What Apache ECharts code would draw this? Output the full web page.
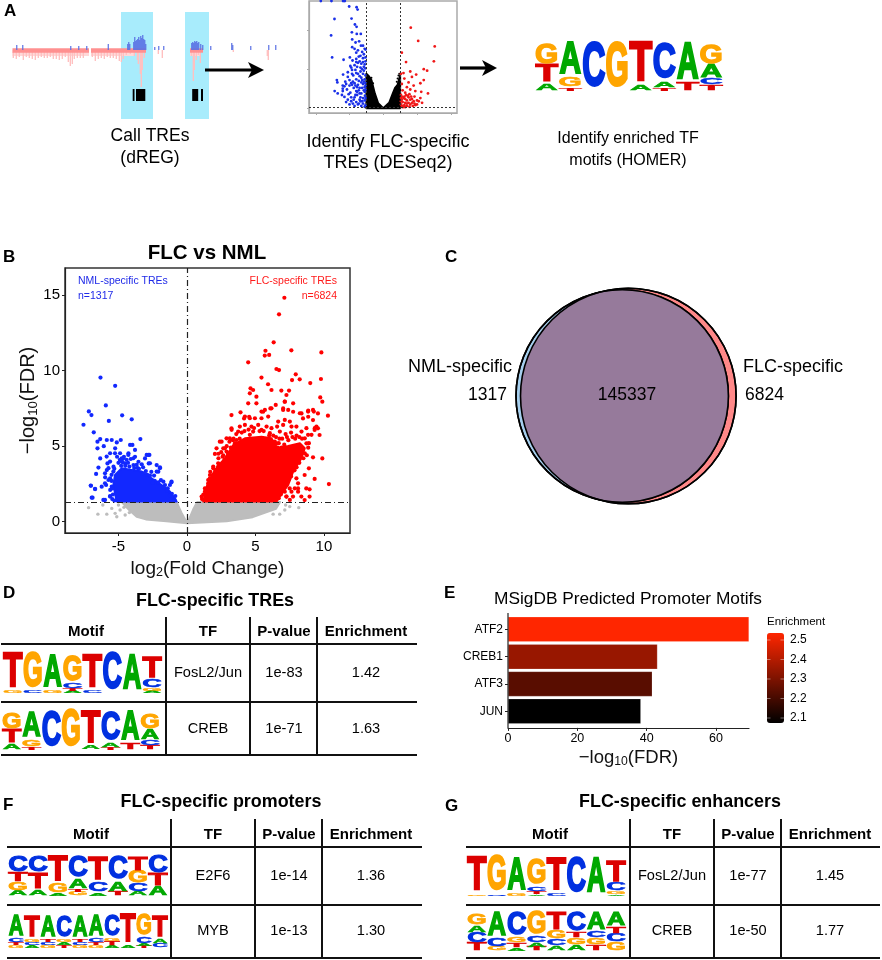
<!DOCTYPE html>
<html><head><meta charset="utf-8">
<style>html,body{margin:0;padding:0;background:#fff}#c{width:882px;height:960px}</style>
<script src="https://cdn.jsdelivr.net/npm/echarts@6/dist/echarts.min.js"></script></head>
<body><div id="c"></div>
<script>
const FONT='"Liberation Sans",Arial,sans-serif';
// ---------- panel A: genome track (position, signal)
const trackBase=[[12.5,89],[91,146],[190,203]];
const trackFringe=[[12.5,89],[91,135],[190,200]];
const trackPink=[[14,-8],[17,-9],[20,-7],[24,-10],[27,-7],[30,-8],[33,-9],[36,-10],[39,-8],[42,-7],[45,-8],[48,-8],[51,-7],[54,-9],[57,-9],[60,-10],[63,-9],[66,-7],[69,-12],[71,-16],[73,-14],[75,-9],[78,-8],[81,-8],[84,-8],[93,-7],[96,-11],[99,-9],[102,-8],[105,-9],[108,-7],[111,-8],[114,-8],[117,-9],[120,-11],[122,-12],[124,-9],[127,-5],[131,-4],[135,-6],[138,-10],[139,-14],[141,-24],[142,-37],[143,-20],[145,-8],[159,-4],[163,-8],[192,-6],[194,-31],[195,-20],[197,-10],[199,-5],[201,-13],[234,-2],[268,-6],[269,-10]];
const trackBlue=[[16,3],[22,3],[70,2],[78,2],[86,2],[107.5,4],[127,4],[128,6],[129,4],[133,6],[134,11],[135,7],[136,8],[137,9],[138,11],[139,8],[140,12],[141,10],[142,13],[143,9],[144,8],[145,4],[154,1],[158,2],[163,2],[191,5],[192,6],[193,5],[194,7],[195,6],[196,7],[197,5],[198,6],[200,4],[202,3],[210,2],[231,5],[232,3],[250,2],[268,3],[275,3]];
const trackHighlights=[[121,153],[185,209]];
const trackBlocks=[[132.7,134.5],[136,145.3],[192.2,198.2],[201,203]];
// ---------- panel A: small volcano
const miniBlack=[[-1,0],[-1,4.4],[-.85,4.1],[-.7,3.6],[-.5,1.9],[-.3,.64],[0,0],[.35,.7],[.55,1.8],[.7,2.6],[.85,3],[1,4.2],[1,0]];
const miniBlackExtra=[[-.9,4],[-.8,3.9],[-.7,3.9],[-.6,3.2],[.8,3.4],[.85,3.8],[.9,2.8],[.9,4.2],[.95,4.4]];
const miniBlue=[[-3.7,13.7],[-3.07,13.7],[-2.38,13.7],[-2.28,13.7],[-2.02,13],[-1.58,12.9],[-1.52,12.6],[-1.88,11.45],[-2.89,11.4],[-1.68,10.7],[-1.58,10.4],[-1.86,9.7],[-3.09,9.3],[-1.57,9.5],[-1.33,9.5],[-1.84,8.8],[-1.43,8.55],[-1.64,8.4],[-1.32,8],[-1.2,8],[-1.84,7.8],[-1.7,7.6],[-1.5,7.4],[-1.6,7.1],[-1.1,7.6],[-1.05,7.5],[-3.03,6.5],[-2.35,6.2],[-1.98,6.5],[-1.82,6.1],[-1.6,6.3],[-1.4,6],[-1.45,6.6],[-1.2,6.4],[-1.3,5.7],[-1.7,5.5],[-1.9,5.2],[-1.55,5.3],[-1.1,5.6],[-1.25,5],[-1.05,5.1],[-2.38,4.3],[-2.1,4.6],[-1.85,4.9],[-2.1,4],[-1.78,4.2],[-1.5,4.4],[-1.2,4.4],[-2.75,3.6],[-2.72,3.3],[-2,3.6],[-1.6,3.7],[-1.3,3.9],[-1.1,3.7],[-1.85,3],[-2.3,2.8],[-2.88,2.2],[-2.4,2.5],[-2.4,2.2],[-2.3,1.45],[-2.1,1.1],[-1.9,.9],[-1.7,1.4],[-1.6,2.2],[-1.5,3],[-1.4,2.6],[-1.3,1.9],[-1.2,3.1],[-1.15,2.3],[-1.08,1.6],[-1.4,1.1],[-1.6,.8],[-1.75,2.6],[-1.2,.6],[-1.1,1],[-1.05,2.9],[-1.3,.3],[-1.5,.5],[-1.8,.6],[-1.05,4.2],[-1.15,4.8],[-1.65,4.9],[-1.35,4.7],[-1.45,3.5],[-1.25,2.6],[-1.55,1.7],[-1.35,1.4],[-1.05,.4],[-1.9,3.2],[-1.95,2],[-2.05,1.8],[-2.2,3.1],[-2.15,2.4],[-2,2.9],[-1.9,1.4],[-1.8,3.4],[-1.7,3.2],[-1.65,2.9],[-1.55,2.7],[-1.45,2.3],[-1.4,1.9],[-1.3,3.3],[-1.25,3.6],[-1.15,3.4],[-1.1,2.7],[-1.1,2.1],[-1.05,1.3],[-1.2,1.3],[-1.35,.9],[-1.45,.6],[-1.65,1.7],[-1.75,1.1],[-2.2,.8],[-2,.5],[-1.7,.3],[-1.4,4.1],[-1.6,4.5],[-1.85,4.4],[-1.95,5.4],[-1.35,6.7],[-1.15,6.9],[-1.25,7.2],[-1.05,6.5],[-1.05,6],[-2.4,2.9],[-2.45,1.7],[-2.7,1.9],[-2.25,3.4],[-1.15,5.3],[-1.2,5.9],[-1.35,5.2],[-1.5,5.8],[-1.6,5.9],[-1.05,3.2],[-1.05,2.4],[-1.25,.9],[-1.1,.2],[-1.55,2.1]];
const miniRed=[[1.63,10.3],[2.07,8.6],[3.05,7.9],[1.1,7.1],[3,6],[1.35,5.9],[2.6,4.8],[2.4,5],[1.6,4.7],[1.05,4.4],[1.2,4.5],[1.7,4],[1.5,3.3],[1.25,3.8],[1.95,4.3],[2.4,3.6],[2.2,3.2],[1.8,2.9],[1.4,2.7],[1.1,3.1],[2.25,2.1],[2.65,1.9],[1.9,2.2],[1.6,2.4],[1.3,2],[1.15,2.3],[2.3,.7],[1.85,1.5],[1.55,1.8],[1.25,1.5],[1.1,1.1],[1.4,1],[1.6,.5],[1.8,.9],[1.05,.5],[1.2,.2],[1.4,.3],[1.7,1.2],[2,1],[1.05,1.7],[1.3,.7],[1.5,1.4],[1.15,.8],[1.35,1.7],[1.6,1.1],[1.9,.4],[1.05,.9],[1.1,.3],[1.2,1.3],[1.3,1.2],[1.25,.4],[1.4,.6],[1.5,.7],[1.55,.2],[1.7,.7],[1.85,.6],[1.05,1.3],[1.1,1.5],[1.45,1.6],[1.65,1.5],[1.75,.3],[2,.5],[2.1,.9],[2.2,1.3],[1.15,.15],[1.3,.15]];
// ---------- panel B: volcano
const greyCloud=[[-4.76,1.3],[-.75,1.3],[-.4,.6],[-.1,.1],[0,.03],[.15,.15],[.45,.8],[.75,1.3],[6.8,1.3],[6.5,.85],[4.8,.3],[2.9,.03],[0,-.1],[-1.5,.03],[-3,.15],[-3.67,.33],[-4.2,.75]];
const greyPts=[[-7.18,.93],[-6.14,1.1],[-6.5,.5],[-5.85,.5],[-5.24,.55],[-5.12,.33],[-4.51,.44],[-4.88,.77],[-5.49,.88],[-5,1.1],[-4.39,1],[-4.03,.88],[6.77,.5],[8.16,.93],[7.5,1],[7.14,.77],[6.29,.5],[7.2,1.1],[-4.6,.95],[-4.2,.6]];
const blueCloud=[[-5.13,1.33],[-5.37,2.43],[-5.25,3.1],[-4.76,3.54],[-4.03,3.43],[-3.3,3.32],[-2.58,2.87],[-1.85,2.43],[-1.24,1.99],[-.75,1.33]];
const bluePts=[[-6.31,9.54],[-5.24,9],[-5.92,7.7],[-7.16,7.3],[-6.97,7.06],[-4.73,7.04],[-5.7,6.67],[-4.03,6.78],[-7.55,6.42],[-6.8,5.92],[-6.33,5.47],[-6.53,5.3],[-5.85,5.41],[-5.49,5.41],[-4.83,5.41],[-3.4,5.47],[-6.53,4.86],[-5.12,5.25],[-6.07,5],[-5.24,4.86],[-4.15,5.08],[-3.98,5.08],[-4.88,4.53],[-5.61,4.53],[-6.33,4.19],[-6.46,3.58],[-6.63,3.16],[-5.97,2.94],[-5.8,3.86],[-7.01,2.38],[-5.9,2.43],[-6.7,2.16],[-6.89,1.59],[-6.04,1.43],[-5.61,1.66],[-5.49,2.32],[-5.73,2.76],[-5.85,3.42],[-5.36,3.64],[-4.76,4.19],[-4.27,4.53],[-3.79,4.75],[-2.94,4.42],[-2.74,4.42],[-3.06,4.19],[-2.79,3.86],[-2.21,3.75],[-1.97,3.6],[-2.09,3.31],[-1.14,2.6],[-1.72,2.65],[-3.79,4.3],[-3.54,3.97],[-4.51,3.86],[-4.9,4.1],[-4.6,4.3],[-4.1,4.15],[-3.2,3.6],[-2.6,3.3],[-2.4,3.05],[-1.9,2.75],[-1.4,2.2],[-5.5,3.1],[-5.6,2.1],[-5.45,1.5],[-4.3,3.9],[-3.6,3.55],[-3,3.35],[-1.25,1.75],[-1,1.6],[-4.7,3.95],[-3.9,3.75],[-5.86,4.31],[-5.25,4.53],[-5.61,3.98],[-5.73,3.54],[-5.37,3.32],[-4.64,4.2],[-4.28,4.42],[-3.91,4.2],[-4.76,3.98],[-3.67,3.76],[-2.82,4.42],[-2.7,3.87],[-2.21,3.32],[-1.97,3.54],[-1.6,2.43],[-1.24,2.43],[-1.12,2.65],[-5.61,2.87],[-5.98,2.54],[-6.22,2.32],[-5.98,3.2],[-7.02,2.39],[-6.71,2.17],[-5.98,1.44],[-5.61,1.7],[-6.95,1.59],[-6.1,1.44],[-5.5,2.7],[-5.45,2.2],[-5.4,1.8],[-5.3,1.4],[-5.3,3.5],[-5,3.9],[-4.8,3.7],[-4.5,3.7],[-4.2,3.65],[-3.85,3.55],[-3.5,3.5],[-3.2,3.2],[-2.9,3.1],[-2.7,3.05],[-2.35,2.7],[-2.1,2.6],[-1.7,2.3],[-1.45,2.05],[-1.1,1.85],[-.9,1.45],[-.85,1.7],[-5.1,4.3],[-4.4,4.1],[-3.3,3.8],[-2.5,2.6]];
const redCloud=[[1.19,1.33],[1.48,2.43],[2.04,3.43],[2.77,4.2],[3.38,5.08],[4.23,5.52],[5.44,5.63],[6.17,5.52],[6.58,4.9],[7.39,5.02],[8.24,5.2],[8.6,4.86],[8.36,4.2],[7.75,3.32],[7.39,2.43],[6.78,1.67],[6.54,1.33]];
const redPts=[[7.11,14.83],[6.72,13.73],[6.33,11.88],[5.73,11.32],[5.68,11],[6,11.04],[7.62,11.35],[9.81,11.21],[4.47,10.55],[6.53,10.11],[6.72,10.04],[7.94,9.76],[5.44,9.54],[7.67,9.38],[8.23,9.43],[9.78,9.45],[9,9.18],[5.92,9.1],[4.64,8.83],[4.83,8.72],[6.17,8.72],[6.89,8.68],[7.45,8.68],[4.59,8.5],[5.07,8.28],[7.26,8.39],[9.73,8.23],[9.88,7.95],[4.47,7.84],[5.07,7.84],[7.14,7.95],[6.48,7.73],[6.09,7.5],[5.56,7.28],[3.91,7.24],[3.25,7.06],[4.17,6.84],[4.54,6.95],[7.02,7.5],[7.75,7.28],[8.36,7.17],[8.85,7.35],[9.2,7.4],[9.56,7.17],[10.29,7.02],[8.47,6.84],[8.85,6.95],[9.2,6.73],[9.56,6.18],[9.32,6.07],[9.68,5.74],[3.25,6.18],[2.89,5.52],[2.4,5.3],[2.16,4.86],[9.2,4.26],[9.88,4.19],[8.9,3.53],[8.59,3.09],[9.32,2.83],[10.36,2.49],[8.71,2.2],[8.11,2.2],[8.95,2.14],[8.35,1.66],[8.95,1.66],[8.59,1.43],[7.74,1.66],[7.5,2.2],[7.26,1.66],[7.99,2.87],[1.67,2.87],[1.55,2.54],[1.31,2.2],[1.07,1.66],[1.92,3.53],[2.28,3.64],[2.6,4.3],[2.77,4.86],[2.04,4.49],[2.65,4.86],[2.53,5.3],[3.13,5.52],[3.26,6.08],[3.86,6.3],[3.74,5.97],[4.23,6.41],[4.71,6.3],[4.83,5.97],[5.2,6.41],[5.44,6.08],[5.81,6.3],[6.17,6.19],[6.58,6.3],[6.78,5.97],[7.02,6.41],[7.51,6.63],[7.63,6.3],[7.99,6.3],[8.36,5.97],[8.72,6.19],[8.84,5.75],[8.6,5.52],[9.33,6.19],[9.45,6.3],[9.09,5.75],[8.72,5.19],[8.6,4.53],[7.99,4.31],[7.51,3.87],[7.02,3.2],[8.11,2.54],[7.87,2.21],[8.11,1.99],[7.63,1.99],[7.26,1.66],[7.51,1.44],[7.14,1.99],[6.78,4.75],[6.54,5.19],[6.41,5.3],[6.05,5.86],[5.69,5.41],[4.59,5.75],[3.62,5.41],[2.89,4.64],[2.28,3.87],[1.92,3.65],[1.68,3.09],[1.55,2.76],[1.31,1.99],[1.38,1.66],[4.23,6.96],[4.59,6.85],[4.96,6.85],[5.44,6.85],[5.93,6.96],[6.66,6.63],[7.14,6.74],[5.44,7.29],[5.69,7.4],[6.17,7.51],[7.02,7.4],[7.39,7.4],[7.75,7.84],[7.14,7.95],[8.24,7.18],[8.84,7.29],[9.26,7.29],[6.9,4.9],[7.1,5.1],[6.95,5.5],[7.3,5.6],[7.7,5.6],[8,5.7],[2.3,4.2],[2.5,4.6],[2.9,5],[3.1,5.3],[3.4,5.5],[3.6,5.8],[4,5.9],[4.2,6],[4.5,6.1],[4.9,6.2],[5.3,6],[5.6,6],[6,5.7],[6.3,5.7],[6.5,5.6],[6.7,5.2],[6.6,4.9],[6.75,5.5],[7.2,5.8],[7.4,5.4],[7.6,5.9],[7.9,5.5],[8.2,5.6],[8.4,5.5],[8.9,5.2],[8.85,4.9],[8.75,4.4],[8.5,4.2],[8.35,4.5],[8.2,3.9],[8,3.6],[7.85,3.4],[7.7,3.6],[7.6,3],[7.45,2.8],[7.3,3.1],[7.2,2.6],[7.05,2.4],[6.95,2.1],[6.85,1.8],[6.7,1.55],[6.75,2.1],[6.95,2.8],[1.1,1.5],[1.2,1.8],[1.45,2.2],[1.75,2.6],[1.9,3.1],[2.1,3.4],[2.4,3.7],[2.6,3.9],[2.75,4.1],[3,4.5],[3.2,4.9],[3.5,5.2],[1.7,3.3],[2.3,4.5],[2.65,4.4],[3.35,5.4],[3.85,5.5]];
// ---------- panel C: Venn (centre x, centre y, radius, fill)
const vennCircles=[[118.3,116,107.8,'#ff8888'],[112.2,116,106.2,'#a6cfee']];
const vennOverlapColor='#967a9b';
const vennCounts={nml:'1317',both:'145337',flc:'6824'};
// ---------- panel E: bars
const motifNames=['ATF2','CREB1','ATF3','JUN'];
const motifFDR=[69.5,43.1,41.6,38.3];
const motifEnrichment=[2.536,2.35,2.236,2.074];
const enrichTicks=[2.5,2.4,2.3,2.2,2.1];
// ---------- motif logos, stacks bottom to top: [letter, share of logo height]
const logoFos=[[['G',.05],['T',.9]],[['C',.05],['G',.92]],[['G',.07],['A',.85]],[['A',.05],['T',.06],['C',.12],['G',.67]],[['C',.06],['T',.86]],[['C',.94]],[['A',.93]],[['A',.05],['G',.07],['C',.2],['T',.56]]];
const logoCreb=[[['A',.15],['T',.37],['G',.45]],[['T',.07],['G',.2],['A',.7]],[['C',.97]],[['G',.98]],[['A',.1],['T',.87]],[['T',.06],['A',.12],['C',.76]],[['T',.17],['A',.8]],[['T',.12],['C',.13],['A',.28],['G',.42]]];
const logoE2f6=[[['A',.13],['G',.2],['T',.25],['C',.41]],[['A',.15],['T',.42],['C',.42]],[['A',.06],['G',.25],['T',.68]],[['G',.1],['T',.06],['A',.26],['C',.56]],[['A',.08],['C',.26],['T',.6]],[['T',.1],['A',.26],['C',.58]],[['A',.1],['C',.2],['G',.3],['T',.36]],[['A',.24],['T',.3],['C',.44]]];
const logoMyb=[[['G',.07],['T',.1],['C',.12],['A',.68]],[['A',.08],['C',.1],['G',.1],['T',.68]],[['G',.08],['C',.1],['T',.1],['A',.7]],[['T',.08],['A',.1],['G',.1],['C',.7]],[['G',.08],['C',.1],['T',.1],['A',.7]],[['G',.08],['T',.1],['C',.12],['A',.68]],[['A',.08],['T',.12],['G',.1],['C',.68]],[['A',.1],['T',.88]],[['T',.06],['A',.06],['C',.2],['G',.66]],[['C',.14],['A',.14],['T',.7]]];
const logoEnh=[[['T',.2],['C',.27],['A',.18],['G',.3]],[['G',.1],['C',.22],['A',.65]],[['A',.08],['T',.12],['G',.15],['C',.62]],[['T',.1],['A',.1],['C',.18],['G',.6]],[['A',.12],['C',.18],['G',.2],['T',.48]],[['A',.15],['G',.18],['T',.15],['C',.5]],[['T',.15],['G',.18],['C',.17],['A',.48]],[['G',.22],['C',.22],['T',.17],['A',.36]]];
// ---------- tables
const tableHeader=['Motif','TF','P-value','Enrichment'];
const tableD=[['FosL2/Jun','1e-83','1.42'],['CREB','1e-71','1.63']];
const tableF=[['E2F6','1e-14','1.36'],['MYB','1e-13','1.30']];
const tableG=[['FosL2/Jun','1e-77','1.45'],['CREB','1e-50','1.77']];

const LOGO_COL={A:'#00a800',C:'#0030e0',G:'#ffa500',T:'#dc0000'};
const ADV={A:.72,C:.67,G:.72,T:.57};
const graphic=[];
const text=(t,x,y,size,o={})=>graphic.push({type:'text',x,y,z:20,rotation:o.rot||0,style:{text:t,font:`${o.bold?'bold ':''}${size}px ${FONT}`,fill:o.color||'#000',align:o.align||'center',verticalAlign:'middle'}});
const line=(x1,y1,x2,y2,w=2,c='#111')=>graphic.push({type:'line',z:15,shape:{x1,y1,x2,y2},style:{stroke:c,lineWidth:w}});
function logo(cols,x0,x1,y0,y1){
  const cw=(x1-x0)/cols.length,H=y1-y0;
  cols.forEach((stack,i)=>{let b=y1;stack.forEach(([l,h])=>{const px=h*H,cy=b-px/2;
    graphic.push({type:'text',x:x0+cw*(i+.5),y:cy,z:12,scaleX:cw*.98/((ADV[l]+.05)*100),scaleY:px/76,
      style:{text:l,font:`bold 100px ${FONT}`,fill:LOGO_COL[l],stroke:LOGO_COL[l],lineWidth:5,align:'center',verticalAlign:'middle'}});b-=px;});});
}
function table(t){
  text(t.title,t.titleX,t.titleY,17.9,{bold:true});
  t.vx.forEach(x=>line(x,t.vy0,x,t.hy[2]));
  t.hy.forEach(y=>line(t.x0,y,t.x1,y));
  tableHeader.forEach((h,i)=>text(h,t.cx[i],t.headY,15,{bold:true}));
  t.rows.forEach((r,j)=>r.forEach((c,i)=>text(c,t.cx[i+1],t.rowY[j],14.6)));
  t.logos.forEach(l=>logo(...l));
}
// panel letters
[['A',4,11],['B',3,257],['C',445,257],['D',3,593],['E',444,593],['F',3,805],['G',445,806]].forEach(p=>text(p[0],p[1],p[2],17,{bold:true,align:'left'}));
// panel A texts and arrows
text('Call TREs',150,136,17.5);text('(dREG)',150,158,17.5);
text('Identify FLC-specific',388,142,18);text('TREs (DESeq2)',388,163,18);
text('Identify enriched TF',628,139,16);text('motifs (HOMER)',628,161,16);
line(205,70,252,70,3.2,'#000');
graphic.push({type:'polygon',z:16,shape:{points:[[248,62],[264,70],[248,78],[252,70]]},style:{fill:'#000'}});
line(460,68,486,68,3.2,'#000');
graphic.push({type:'polygon',z:16,shape:{points:[[482,60],[497,68],[482,76],[486,68]]},style:{fill:'#000'}});
logo(logoCreb,535,723,43,91);
// panel B texts
text('FLC vs NML',207,253,20.5,{bold:true});
text('NML-specific TREs',78,281,10.5,{align:'left',color:'#1f2ae8'});
text('n=1317',78,296,10.5,{align:'left',color:'#1f2ae8'});
text('FLC-specific TREs',337,281,10.5,{align:'right',color:'#ff1a1a'});
text('n=6824',337,296,10.5,{align:'right',color:'#ff1a1a'});
// panel C texts
text('NML-specific',512,367,18,{align:'right'});
text(vennCounts.nml,507,395,17.5,{align:'right'});
text(vennCounts.both,627,395,17.5);
text('FLC-specific',743,367,18,{align:'left'});
text(vennCounts.flc,745,395,17.5,{align:'left'});
// panel E extras
text('MSigDB Predicted Promoter Motifs',628,599,17.3);
text('Enrichment',767,622,11.5,{align:'left'});
const cbY=v=>640+(2.5-v)*195;
enrichTicks.forEach(v=>{text(v.toFixed(1),790,cbY(v),12,{align:'left'});
  line(767,cbY(v),770.5,cbY(v),.7,'rgba(255,255,255,.6)');line(780.5,cbY(v),784,cbY(v),.7,'rgba(255,255,255,.6)');});
line(508,613,508,728,1.2,'#222');
// tables
table({title:'FLC-specific TREs',titleX:215,titleY:601,vx:[166,250,317],vy0:617,hy:[644,702,755],x0:1,x1:417,cx:[86,208,284,366],headY:632,rowY:[673,729],rows:tableD,
  logos:[[logoFos,3,162,653,693],[logoCreb,2,160,712,750]]});
table({title:'FLC-specific promoters',titleX:221,titleY:802,vx:[171,255,322],vy0:819,hy:[847,905,958],x0:7,x1:422,cx:[91,213,289,371],headY:835,rowY:[876,931],rows:tableF,
  logos:[[logoE2f6,8,168,856,896],[logoMyb,8,168,915,948]]});
table({title:'FLC-specific enhancers',titleX:680,titleY:802,vx:[630,714,781],vy0:819,hy:[847,905,958],x0:466,x1:880,cx:[550,672,748,830],headY:835,rowY:[876,931],rows:tableG,
  logos:[[logoFos,467,626,857,896],[logoEnh,467,626,912,951]]});

const cloud=(pts,color,xi,yi,z)=>({type:'custom',xAxisIndex:xi,yAxisIndex:yi,z,silent:true,clip:true,data:pts,
  renderItem:(p,api)=>p.dataIndex?null:{type:'polygon',shape:{points:pts.map(q=>api.coord(q))},style:{fill:color,stroke:color,lineWidth:2,lineJoin:'round'}}});
const dots=(pts,color,size,xi,yi,z)=>({type:'scatter',xAxisIndex:xi,yAxisIndex:yi,z,silent:true,symbolSize:size,itemStyle:{color,opacity:1},data:pts,animation:false});
const rects=(rows,vals,color,z)=>({type:'custom',xAxisIndex:0,yAxisIndex:0,z,silent:true,data:rows,
  renderItem:(p,api)=>{const a=api.coord([api.value(0),vals[1]]),b=api.coord([api.value(1),vals[0]]);return{type:'rect',shape:{x:a[0],y:a[1],width:b[0]-a[0],height:b[1]-a[1]},style:{fill:color}};}});
const vline=(xs,ys,style)=>({silent:true,symbol:'none',label:{show:false},lineStyle:style,data:[...xs.map(v=>({xAxis:v})),...ys.map(v=>({yAxis:v}))]});
const ax=(o)=>Object.assign({type:'value',scale:false,splitLine:{show:false}},o);
const hidden=(gridIndex,min,max)=>ax({gridIndex,min,max,show:false});
const tickAxis=(gridIndex,min,max,vals,labels,extra={})=>ax({gridIndex,min,max,
  axisLine:{show:true,onZero:false,lineStyle:{color:extra.lineColor||'#222',width:extra.lineW||1.2}},
  axisTick:{show:true,customValues:vals,length:extra.tick||3,lineStyle:{color:extra.lineColor||'#222'}},
  axisLabel:labels?{show:true,customValues:vals,fontFamily:FONT,fontSize:extra.fs||15,color:'#000',margin:extra.margin||5,formatter:v=>String(v),hideOverlap:false}:{show:false}});
const subName=(size,sub,pre,post)=>({name:`{a|${pre}}{s|${sub}}{a|${post}}`,nameLocation:'middle',nameTextStyle:{rich:{a:{fontSize:size,fontFamily:FONT,color:'#111'},s:{fontSize:size*.66,fontFamily:FONT,padding:[8,0,0,0],color:'#111'}}}});

const option={animation:false,textStyle:{fontFamily:FONT},graphic:{elements:graphic},
 grid:[{left:0,top:0,width:280,height:130},
   {left:309,top:1,width:148,height:112,show:true,borderColor:'#aaa',borderWidth:1.5},
   {left:510,top:280,width:232,height:232},
   {left:65,top:268,width:285,height:265,show:true,borderColor:'#333',borderWidth:1.5},
   {left:508,top:615.7,width:241,height:109.2}],
 xAxis:[hidden(0,0,280),
   tickAxis(1,-4.4,4.37,[-4,-2,0,2,4],null,{lineColor:'#aaa',tick:2}),
   hidden(2,0,232),
   Object.assign(tickAxis(3,-8.9,11.9,[-5,0,5,10],true,{margin:6}),subName(19,2,'log','(Fold Change)'),{nameGap:25}),
   Object.assign(tickAxis(4,0,69.5,[0,20,40,60],true,{fs:12.5,margin:4,tick:3}),subName(18.5,10,'−log','(FDR)'),{offset:3,nameGap:20})],
 yAxis:[hidden(0,-80,50),
   tickAxis(1,-.6,13.7,[0,5,10],null,{lineColor:'#aaa',tick:2}),
   hidden(2,0,232),
   Object.assign(tickAxis(3,-.75,16.8,[0,5,10,15],true,{margin:5}),subName(20,10,'−log','(FDR)'),{nameRotate:90,nameGap:25,nameLocation:'middle'}),
   {type:'category',gridIndex:4,inverse:true,data:motifNames,axisLine:{show:false},axisTick:{show:true,alignWithLabel:true,length:3,lineStyle:{color:'#222'}},axisLabel:{fontFamily:FONT,fontSize:12,color:'#000',margin:5}}],
 series:[]};

const s=option.series;
// track
s.push(rects(trackHighlights,[-69,38],'#a8ecfc',1));
s.push(rects(trackFringe,[-6,-2],'#ffd8d8',2));
s.push(rects(trackBase,[-2.7,1.7],'#ff9090',3));
s.push({type:'bar',xAxisIndex:0,yAxisIndex:0,z:2,barWidth:1.4,silent:true,itemStyle:{color:'#ffc0c0'},data:trackPink});
s.push({type:'bar',xAxisIndex:0,yAxisIndex:0,z:3,barWidth:1.2,silent:true,itemStyle:{color:'#5a70e4'},data:trackBlue.map(d=>[d[0],d[1]+2])});
s.push(rects(trackBlocks,[-51,-39],'#000',4));
// mini volcano
s.push(cloud(miniBlack,'#000',1,1,2));
s.push(dots(miniBlackExtra,'#000',2,1,1,2));
s.push(dots(miniBlue,'#1a30e8',2.8,1,1,3));
s.push(dots(miniRed,'#f01818',2.8,1,1,3));
s.push({type:'line',xAxisIndex:1,yAxisIndex:1,data:[],markLine:vline([-1,1],[.15],{color:'#333',type:[2,2],width:1})});
// venn
s.push({type:'custom',xAxisIndex:2,yAxisIndex:2,silent:true,z:2,data:vennCircles.map(c=>c.slice(0,3)),
  renderItem:(p,api)=>{
    if(p.dataIndex)return null;
    const C=vennCircles.map(c=>{const o=api.coord([c[0],c[1]]);return{x:o[0],y:o[1],r:api.size([c[2],0])[0],f:c[3]};});
    const circ=(c,fill,stroke)=>({type:'circle',shape:{cx:c.x,cy:c.y,r:c.r},style:{fill,stroke,lineWidth:1.6}});
    const arc=[];
    C.forEach((c,i)=>{const o=C[1-i];for(let k=0;k<720;k++){const a=k/720*2*Math.PI,x=c.x+c.r*Math.cos(a),y=c.y+c.r*Math.sin(a);
      if(Math.hypot(x-o.x,y-o.y)<=o.r)arc.push([x,y]);}});
    const mx=(C[0].x+C[1].x)/2,my=C[0].y;
    arc.sort((a,b)=>Math.atan2(a[1]-my,a[0]-mx)-Math.atan2(b[1]-my,b[0]-mx));
    return{type:'group',children:[circ(C[0],C[0].f,'#000'),circ(C[1],C[1].f,'#000'),
      {type:'polygon',shape:{points:arc},style:{fill:vennOverlapColor}},
      circ(C[0],'none','#000'),circ(C[1],'none','#000')]};
  }});
// volcano
s.push(cloud(greyCloud,'#bdbdbd',3,3,2));
s.push(dots(greyPts,'#bdbdbd',3.4,3,3,2));
s.push(cloud(blueCloud,'#1228ff',3,3,3));
s.push(dots(bluePts,'#1228ff',4.2,3,3,3));
s.push(cloud(redCloud,'#ff0000',3,3,3));
s.push(dots(redPts,'#ff0000',4.2,3,3,3));
s.push({type:'line',xAxisIndex:3,yAxisIndex:3,z:6,data:[],markLine:vline([0],[1.3],{color:'#222',type:[6,3,1,3],width:1.2})});
// bars
const barIdx=s.length;
s.push({type:'bar',xAxisIndex:4,yAxisIndex:4,barWidth:25,silent:true,encode:{x:0,y:1},
  itemStyle:{borderColor:'rgba(255,255,255,.35)',borderWidth:.5},
  data:motifNames.map((n,i)=>[motifFDR[i],n,motifEnrichment[i]])});
option.visualMap=[{type:'continuous',seriesIndex:barIdx,dimension:2,min:2.074,max:2.536,show:true,calculable:false,hoverLink:false,
  left:767,top:633,itemWidth:17,itemHeight:90,padding:0,text:null,inRange:{color:['#000000','#ff2600']},textStyle:{fontSize:0}}];
echarts.init(document.getElementById('c'),null,{renderer:'canvas'}).setOption(option);
</script></body></html>
